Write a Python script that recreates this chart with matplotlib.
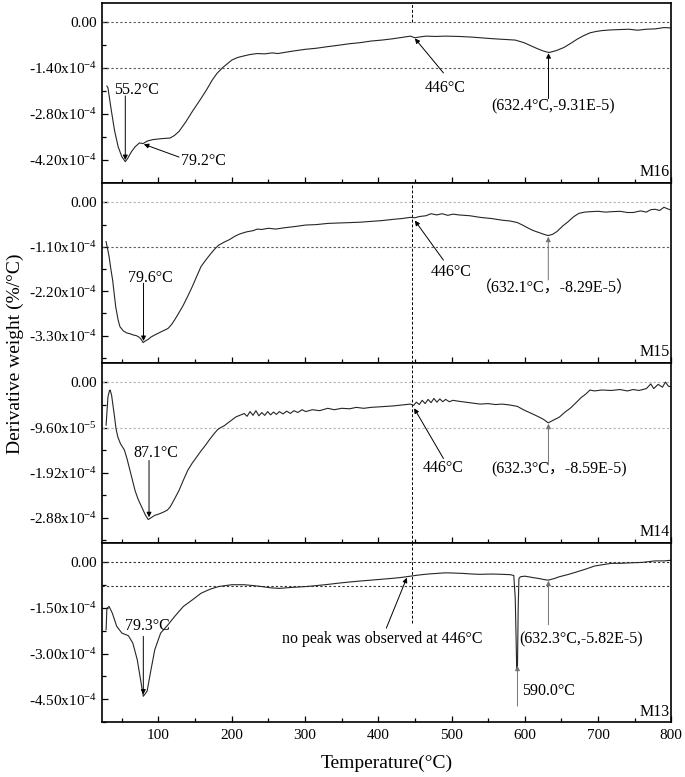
import matplotlib
matplotlib.use('Agg')
import matplotlib.pyplot as plt

plt.rcParams['font.family'] = ['Liberation Serif', 'Noto Sans CJK SC']
plt.rcParams['mathtext.fontset'] = 'custom'
plt.rcParams['mathtext.rm'] = 'Liberation Serif'
plt.rcParams['mathtext.it'] = 'Liberation Serif:italic'
plt.rcParams['axes.unicode_minus'] = False

# DTG curves, values in units of 1e-4 %/degC
t16 = [29.6, 31, 35, 40, 45, 50, 54.7, 58, 63, 68, 74, 79, 85, 92, 104, 116, 122, 128, 137, 146,
       158, 166, 173, 180, 188, 200, 208, 217, 225, 235, 245, 255, 263, 271, 285, 301, 315, 331,
       345, 361, 375, 390, 405, 420, 432, 444, 450, 458, 465, 478, 492, 510, 528, 545, 557, 572,
       587, 599, 610, 617, 625, 633, 643, 653, 662, 671, 680, 689, 697, 706, 718, 730, 742, 754,
       766, 778, 790, 800]
d16 = [-1.95, -2.0, -2.6, -3.3, -3.8, -4.1, -4.25, -4.15, -3.95, -3.8, -3.68, -3.70, -3.62, -3.58,
       -3.55, -3.53, -3.45, -3.33, -3.05, -2.73, -2.33, -2.05, -1.78, -1.56, -1.38, -1.16, -1.08,
       -1.03, -0.99, -0.96, -0.97, -0.94, -0.96, -0.93, -0.88, -0.83, -0.80, -0.75, -0.71, -0.66,
       -0.63, -0.58, -0.55, -0.51, -0.47, -0.43, -0.48, -0.45, -0.43, -0.44, -0.43, -0.44, -0.46,
       -0.49, -0.51, -0.53, -0.55, -0.63, -0.74, -0.81, -0.88, -0.93, -0.87, -0.78, -0.66, -0.53,
       -0.42, -0.33, -0.29, -0.26, -0.24, -0.23, -0.22, -0.25, -0.22, -0.21, -0.17, -0.18]

t15 = [28.5, 30, 32.6, 35, 37.4, 41.6, 45, 47.5, 52, 56.5, 61, 65.4, 70, 73, 76, 79.1, 82, 86, 90,
       95, 104, 113, 118, 122, 128, 134, 140, 146, 152, 158, 164, 170, 176, 182, 190, 197, 204,
       211, 220, 229, 235, 241, 250, 260, 271, 285, 301, 315, 331, 345, 361, 375, 390, 405, 420,
       432, 444, 450, 456, 465, 472, 480, 487, 495, 502, 510, 525, 539, 555, 569, 580, 590, 598,
       605, 612, 620, 626, 632, 638, 644, 652, 659, 667, 674, 682, 689, 700, 710, 718, 730, 740,
       748, 758, 766, 772, 778, 784, 790, 795, 800]
d15 = [-0.97, -1.10, -1.34, -1.65, -1.92, -2.58, -2.92, -3.08, -3.18, -3.23, -3.25, -3.28, -3.30,
       -3.33, -3.38, -3.47, -3.43, -3.39, -3.33, -3.28, -3.20, -3.12, -3.02, -2.91, -2.73, -2.54,
       -2.32, -2.09, -1.84, -1.59, -1.44, -1.30, -1.17, -1.06, -0.98, -0.92, -0.84, -0.78, -0.73,
       -0.70, -0.66, -0.67, -0.64, -0.66, -0.63, -0.60, -0.56, -0.55, -0.52, -0.51, -0.50, -0.49,
       -0.47, -0.45, -0.42, -0.40, -0.37, -0.38, -0.35, -0.33, -0.28, -0.31, -0.28, -0.32, -0.29,
       -0.31, -0.33, -0.37, -0.40, -0.44, -0.46, -0.50, -0.57, -0.64, -0.70, -0.75, -0.79, -0.82,
       -0.79, -0.72, -0.58, -0.48, -0.35, -0.27, -0.24, -0.23, -0.22, -0.24, -0.23, -0.22, -0.25,
       -0.25, -0.21, -0.24, -0.18, -0.17, -0.20, -0.12, -0.16, -0.19]

t14 = [28.5, 30, 31, 33, 34, 36, 38, 40, 42, 44.5, 48, 53.5, 57, 61, 65, 68, 72, 77, 82, 86, 90, 95,
       101, 107, 112, 116, 122, 128, 134, 140, 146, 152, 158, 164, 170, 176, 181, 185, 190, 194,
       200, 206, 211, 217, 221, 225, 229, 233, 237, 241, 245, 249, 253, 257, 261, 265, 270, 275,
       280, 285, 290, 296, 301, 310, 320, 331, 340, 350, 361, 370, 380, 390, 400, 410, 420, 432,
       444, 448, 452, 456, 460, 464, 468, 472, 476, 480, 484, 488, 492, 497, 502, 510, 520, 530,
       539, 550, 560, 569, 580, 590, 598, 605, 612, 620, 626, 632, 638, 647, 655, 662, 670, 677,
       683, 689, 695, 705, 718, 730, 740, 748, 756, 766, 772, 776, 782, 788, 792, 796, 800]
d14 = [-0.91, -0.55, -0.31, -0.18, -0.16, -0.27, -0.50, -0.73, -0.98, -1.16, -1.30, -1.44, -1.62,
       -1.87, -2.12, -2.30, -2.48, -2.65, -2.82, -2.92, -2.88, -2.83, -2.80, -2.76, -2.72, -2.65,
       -2.48, -2.30, -2.08, -1.87, -1.72, -1.59, -1.46, -1.34, -1.21, -1.09, -1.00, -0.96, -0.92,
       -0.87, -0.80, -0.73, -0.70, -0.66, -0.72, -0.62, -0.70, -0.60, -0.71, -0.64, -0.70, -0.62,
       -0.69, -0.63, -0.68, -0.62, -0.67, -0.61, -0.66, -0.60, -0.64, -0.58, -0.62, -0.58, -0.60,
       -0.55, -0.58, -0.55, -0.56, -0.53, -0.55, -0.53, -0.52, -0.51, -0.50, -0.48, -0.46, -0.49,
       -0.42, -0.47, -0.38, -0.45, -0.36, -0.43, -0.34, -0.42, -0.35, -0.41, -0.36, -0.41, -0.38,
       -0.40, -0.42, -0.44, -0.46, -0.45, -0.47, -0.46, -0.48, -0.51, -0.58, -0.63, -0.68, -0.74,
       -0.79, -0.86, -0.81, -0.74, -0.63, -0.55, -0.43, -0.32, -0.25, -0.16, -0.18, -0.16, -0.17,
       -0.15, -0.18, -0.15, -0.17, -0.13, -0.03, -0.13, -0.04, -0.10, 0.01, -0.08, -0.09]

t13 = [28.5, 29.6, 32.6, 37, 43, 50, 59, 65, 71, 75.5, 79.3, 84.5, 89, 95, 103, 113, 122, 134, 146,
       158, 170, 182, 200, 217, 230, 241, 253, 265, 280, 301, 315, 331, 345, 361, 375, 390, 405,
       420, 432, 444, 456, 468, 480, 492, 505, 516, 528, 539, 555, 569, 580, 585, 587, 589, 590,
       591, 592, 594, 600, 605, 612, 620, 626, 632, 640, 647, 660, 671, 683, 695, 705, 718, 730,
       748, 760, 778, 790, 800]
d13 = [-2.22, -1.52, -1.46, -1.68, -2.11, -2.33, -2.42, -2.66, -3.20, -3.85, -4.40, -4.23, -3.63,
       -2.87, -2.33, -2.06, -1.79, -1.46, -1.25, -1.03, -0.90, -0.81, -0.75, -0.75, -0.78, -0.81,
       -0.85, -0.87, -0.84, -0.81, -0.78, -0.74, -0.70, -0.66, -0.63, -0.60, -0.57, -0.54, -0.51,
       -0.47, -0.43, -0.40, -0.38, -0.36, -0.37, -0.38, -0.40, -0.41, -0.40, -0.41, -0.42, -0.45,
       -1.2, -3.52, -3.48, -1.5, -0.55, -0.49, -0.47, -0.49, -0.52, -0.55, -0.58, -0.60, -0.55,
       -0.49, -0.41, -0.33, -0.24, -0.14, -0.10, -0.05, -0.05, -0.03, -0.02, 0.03, 0.03, 0.05]

names = ['M16', 'M15', 'M14', 'M13']
curves = [(t16, d16), (t15, d15), (t14, d14), (t13, d13)]
ylims = [(-4.81, 0.57), (-3.97, 0.48), (-3.41, 0.42), (-5.23, 0.63)]
yticks = [[0, -1.4, -2.8, -4.2], [0, -1.1, -2.2, -3.3], [0, -0.96, -1.92, -2.88], [0, -1.5, -3.0, -4.5]]
ytlabels = [['0.00', '-1.40x10$^{-4}$', '-2.80x10$^{-4}$', '-4.20x10$^{-4}$'],
            ['0.00', '-1.10x10$^{-4}$', '-2.20x10$^{-4}$', '-3.30x10$^{-4}$'],
            ['0.00', '-9.60x10$^{-5}$', '-1.92x10$^{-4}$', '-2.88x10$^{-4}$'],
            ['0.00', '-1.50x10$^{-4}$', '-3.00x10$^{-4}$', '-4.50x10$^{-4}$']]
hlines = [[(0, '0.35'), (-1.4, '0.35')], [(0, '0.7'), (-1.1, '0.35')],
          [(0, '0.7'), (-0.96, '0.7')], [(0, '0.2'), (-0.79, '0.2')]]

# annotations: (text, text_x, text_y, tail, head, arrow color)
notes = [
    [('55.2°C', 70, -2.08, (54.7, -2.25), (54.7, -4.2), 'k'),
     ('79.2°C', 162, -4.23, (128, -4.11), (80, -3.72), 'k'),
     ('446°C', 492, -2.01, (489, -1.55), (450, -0.5), 'k'),
     ('(632.4°C,-9.31E-5)', 638, -2.58, (632.4, -2.33), (632.4, -0.95), 'k')],
    [('79.6°C', 89, -1.86, (79.6, -2.0), (79.6, -3.43), 'k'),
     ('446°C', 499, -1.72, (489, -1.43), (450, -0.45), 'k'),
     ('（632.1°C，-8.29E-5）', 641, -2.13, (632.1, -1.92), (632.1, -0.85), '0.45')],
    [('87.1°C', 96.5, -1.50, (87.1, -1.66), (87.1, -2.87), 'k'),
     ('446°C', 489, -1.83, (489, -1.62), (449, -0.55), 'k'),
     ('(632.3°C，-8.59E-5)', 647, -1.86, (632.3, -1.76), (632.3, -0.88), '0.45')],
    [('79.3°C', 84.5, -2.09, (79.3, -2.44), (79.3, -4.34), 'k'),
     ('no peak was observed at 446°C', 405, -2.53, (411, -2.17), (439, -0.52), 'k'),
     ('(632.3°C,-5.82E-5)', 677, -2.53, (632.3, -2.06), (632.3, -0.62), '0.45'),
     ('590.0°C', 632, -4.23, (590, -4.72), (590, -3.4), '0.45')],
]

fig, axes = plt.subplots(4, 1, figsize=(6.85, 7.77), dpi=100, sharex=True)
fig.subplots_adjust(left=0.149, right=0.980, top=0.9958, bottom=0.0704, hspace=0)

for i, ax in enumerate(axes):
    t, d = curves[i]
    lo, hi = ylims[i]
    for yv, c in hlines[i]:
        ax.axhline(yv, color=c, lw=0.8, ls=(0, (2, 2)))
    # vertical marker at 446 degC
    if i == 0:
        ax.axvline(446, ymin=(0 - lo) / (hi - lo), ymax=1, color='k', lw=0.7, ls=(0, (3, 2)))
    elif i == 3:
        ax.axvline(446, ymin=(-2.0 - lo) / (hi - lo), ymax=1, color='k', lw=0.7, ls=(0, (3, 2)))
    else:
        ax.axvline(446, color='k', lw=0.7, ls=(0, (3, 2)))
    ax.plot(t, d, color='0.15', lw=0.8)
    ax.set_ylim(lo, hi)
    ax.set_xlim(23, 800)
    ax.set_yticks(yticks[i], labels=ytlabels[i])
    step = yticks[i][1]
    ax.set_yticks([step / 2 + k * step for k in range(4)], minor=True)
    ax.set_xticks([100, 200, 300, 400, 500, 600, 700, 800])
    ax.set_xticks([50, 150, 250, 350, 450, 550, 650, 750], minor=True)
    ax.tick_params(which='both', direction='in', labelsize=11, width=0.9)
    ax.tick_params(which='major', length=4)
    ax.tick_params(which='minor', length=3)
    for s in ax.spines.values():
        s.set_linewidth(1.2)
    for txt, tx, ty, tail, head, col in notes[i]:
        ax.annotate('', xy=head, xytext=tail,
                    arrowprops=dict(arrowstyle='-|>', color=col, lw=0.7,
                                    mutation_scale=7, shrinkA=0, shrinkB=0))
        ax.text(tx, ty, txt, ha='center', va='center', fontsize=11.5)
    ax.text(0.998, 0.015, names[i], transform=ax.transAxes, ha='right', va='bottom', fontsize=11.5)

axes[-1].tick_params(axis='x', labelsize=11, pad=5)

fig.text(0.022, 0.545, 'Derivative weight (%/°C)', rotation=90, ha='center', va='center', fontsize=14)
fig.text(0.5645, 0.018, 'Temperature(°C)', ha='center', va='center', fontsize=14)

fig.savefig('out.png', dpi=100)
